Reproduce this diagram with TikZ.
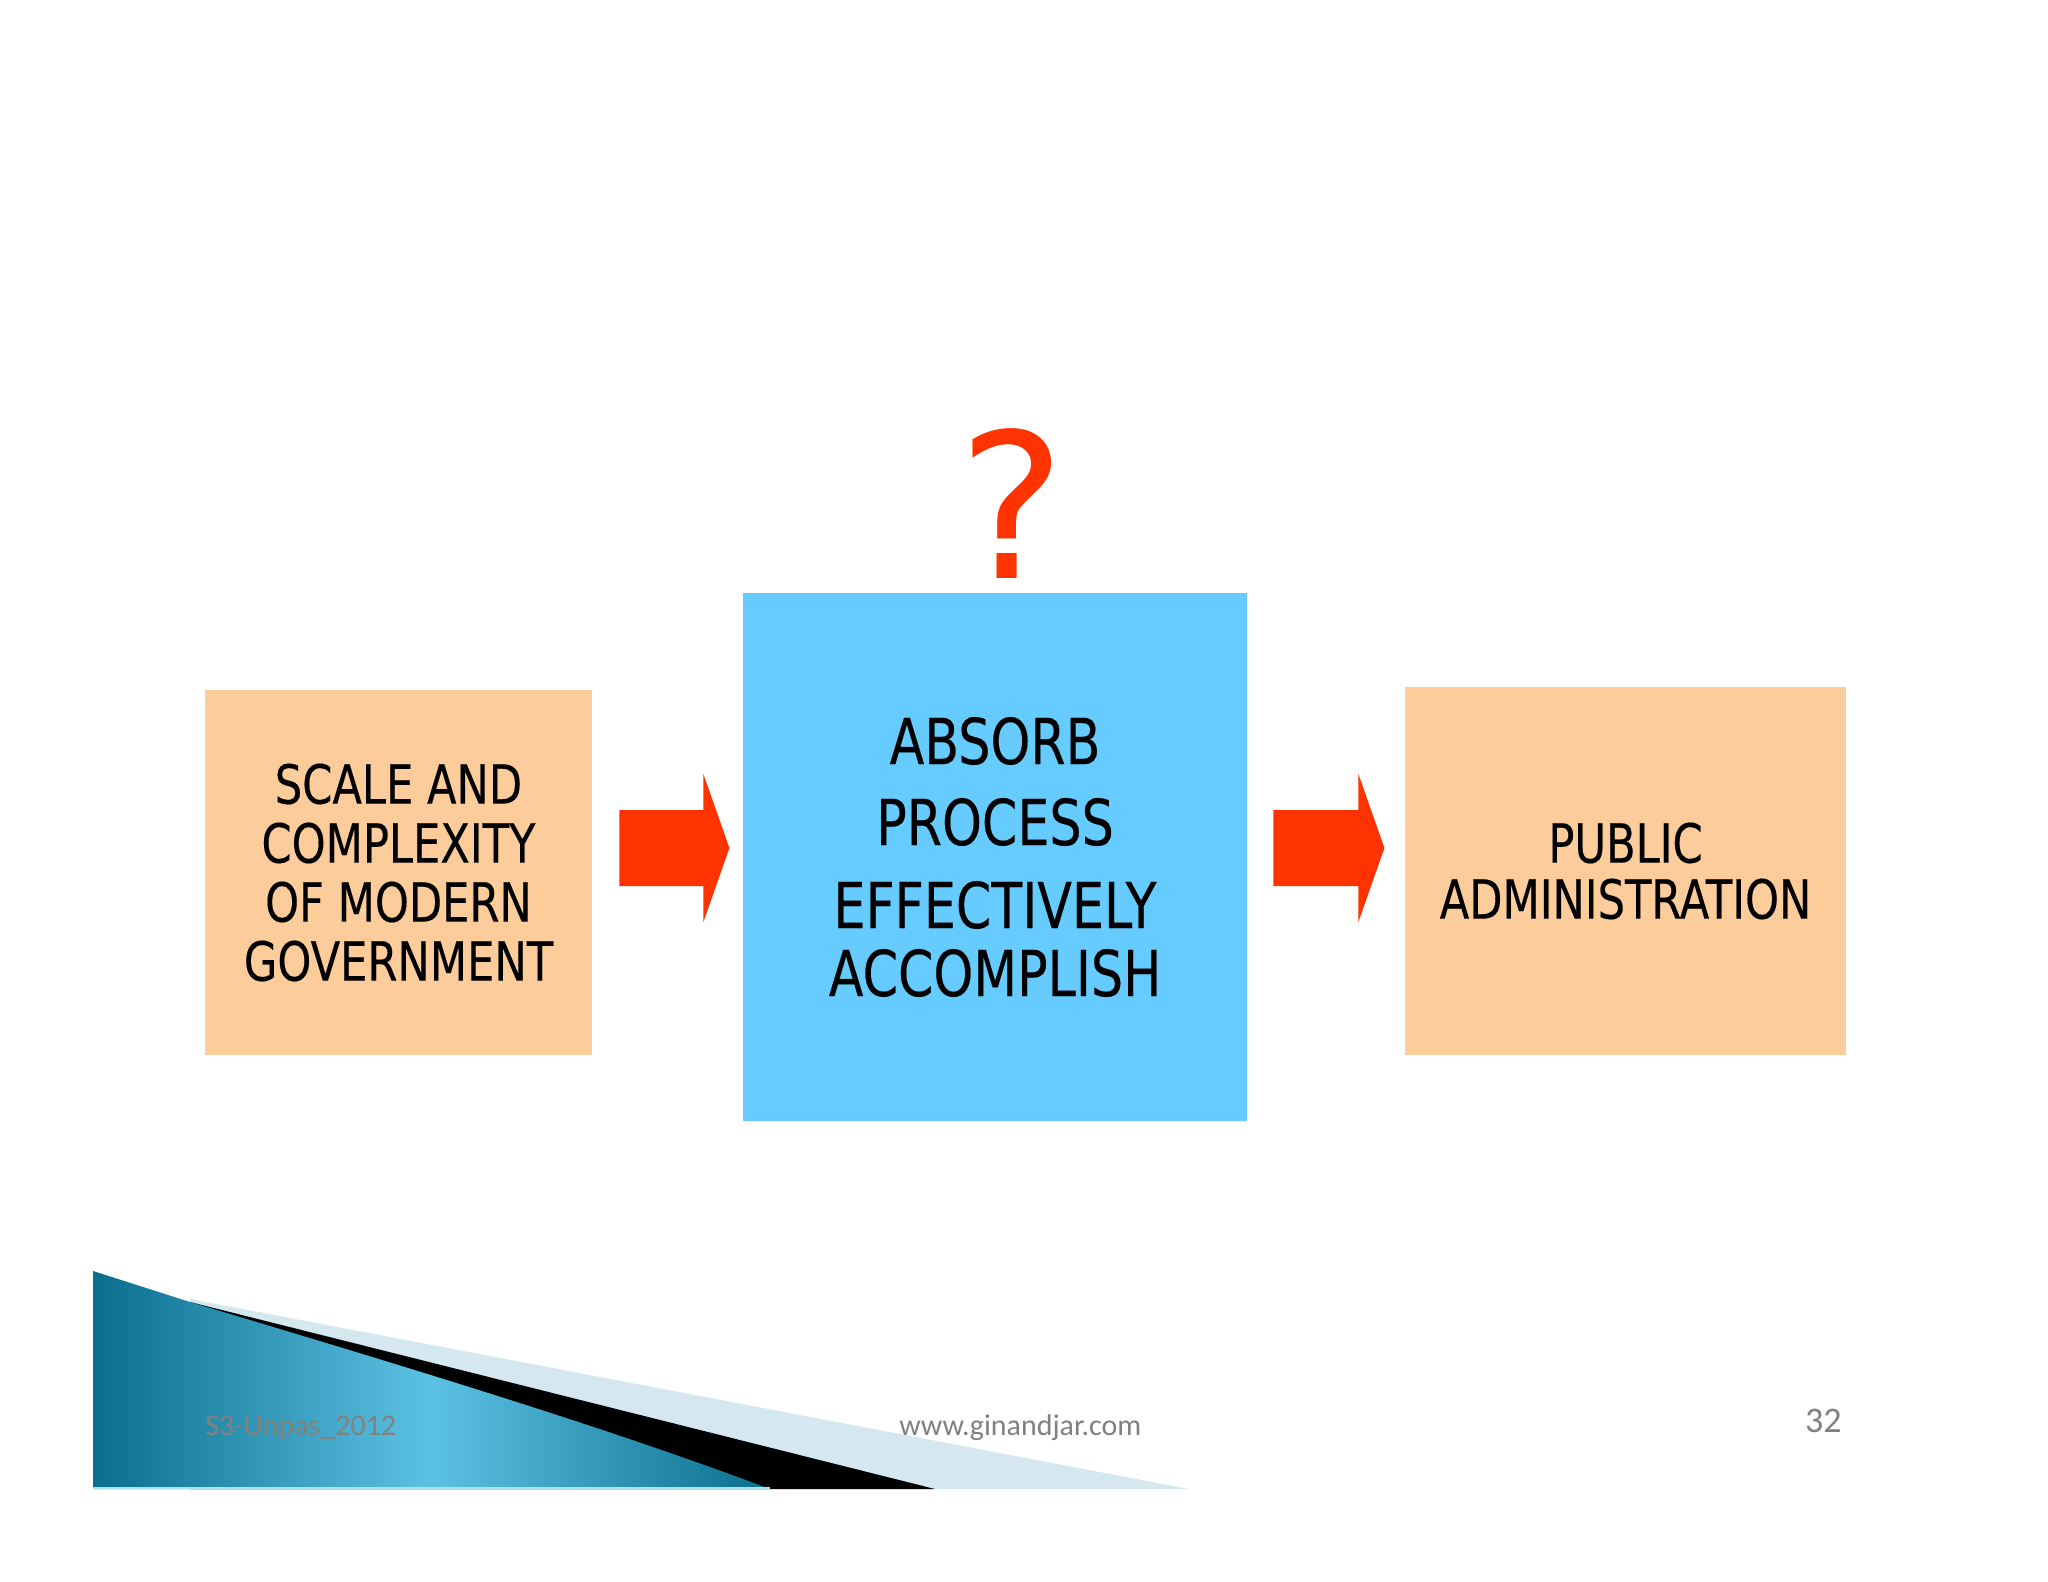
\documentclass[tikz,border=0pt]{standalone}
\usepackage{fontspec}
\usetikzlibrary{calc}
\newfontfamily\boxfont[FakeStretch=0.8,FakeBold=0.3]{DejaVu Sans}
\newfontfamily\qfont{DejaVu Sans}
\newfontfamily\calfont{Carlito}
\definecolor{peach}{HTML}{FCCC9A}
\definecolor{skyb}{HTML}{66CCFF}
\definecolor{redarr}{HTML}{FF3300}
\definecolor{footgray}{HTML}{808080}
\definecolor{tealdark}{HTML}{0B6E8E}
\definecolor{teallight}{HTML}{5CC2E3}
\definecolor{paleblue}{HTML}{D5E8EF}
\begin{document}
\begin{tikzpicture}[x=0.5pt,y=-0.5pt,
  box/.style={rectangle, inner sep=0pt, align=center, text=black},
  smallbox/.style={box, fill=peach, font=\boxfont\fontsize{27}{29.5}\selectfont},
  blockarrow/.style={fill=redarr},
  foot/.style={font=\calfont\fontsize{15}{18}\selectfont, text=footgray, inner sep=0pt}]
\useasboundingbox (0,0) rectangle (2048,1582);
\fill[white] (0,0) rectangle (2048,1582);

% boxes
\node[smallbox, minimum width=193.5pt, minimum height=182.5pt] (left) at (398.5,872.5)
  {SCALE AND\\COMPLEXITY\\OF MODERN\\GOVERNMENT};
\node[box, fill=skyb, minimum width=252pt, minimum height=264pt,
  font=\boxfont\fontsize{31.7}{34}\selectfont] (mid) at (995,857)
  {ABSORB\\[6.5pt]PROCESS\\[7.5pt]EFFECTIVELY\\ACCOMPLISH};
\node[smallbox, minimum width=220.5pt, minimum height=184pt,
  font=\boxfont\fontsize{27}{28}\selectfont] (right) at (1625.5,871)
  {PUBLIC\\ADMINISTRATION};

% question mark
\node[font=\qfont\fontsize{101}{110}\selectfont, text=redarr, anchor=base, inner sep=0pt] (q) at (1012,579) {?};

% block arrows
\fill[blockarrow] ($(left.east)+(27,-62.5)$) -- ++(84,0) -- ++(0,-36) -- ++(26,74)
  -- ++(-26,74) -- ++(0,-36) -- ++(-84,0) -- cycle;
\fill[blockarrow] ($(mid.east)+(26,-47)$) -- ++(85,0) -- ++(0,-36) -- ++(26,74)
  -- ++(-26,74) -- ++(0,-36) -- ++(-85,0) -- cycle;

% bottom decoration
\fill[paleblue] (190,1299) -- (1189,1489) -- (190,1489) -- cycle;
\fill[black] (190,1302) -- (935,1489) -- (190,1489) -- cycle;
\shade[left color=tealdark, right color=tealdark, middle color=teallight]
  (93,1271) -- (190,1302) .. controls (400,1365) and (600,1425) .. (770,1489) -- (93,1489) -- cycle;
\draw[teallight!50!white, line width=1pt] (93,1488) -- (770,1488);

% footer
\node[foot, anchor=base west, text=footgray!90!brown] (f1) at (205,1435) {S3-Unpas\_2012};
\node[foot, anchor=base west] (f2) at (899,1435) {www.ginandjar.com};
\node[foot, anchor=base east, font=\calfont\fontsize{18}{20}\selectfont] (f3) at (1842,1432) {32};
\end{tikzpicture}
\end{document}
